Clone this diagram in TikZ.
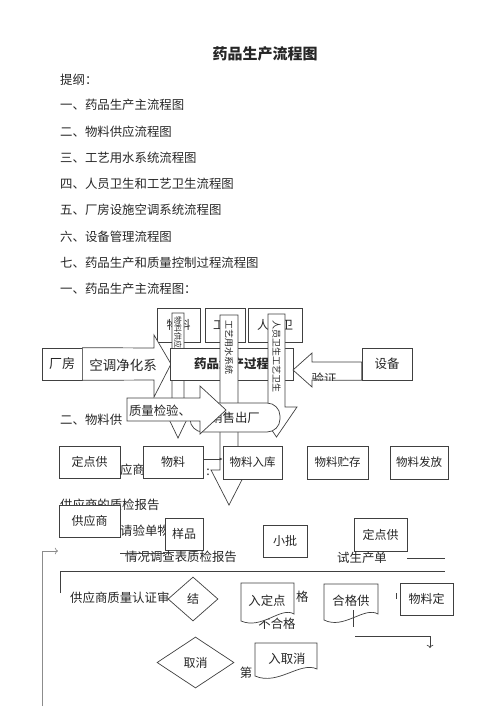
\documentclass[tikz,border=0pt]{standalone}
\usepackage{fontspec}
\setmainfont{Noto Sans CJK SC}
\usepackage{xcolor}
\usepackage{tikz}
\usetikzlibrary{shapes.geometric,arrows.meta}

\tikzset{
	ln/.style={draw=black!75, line width=0.7pt},
	box/.style={ln, fill=white, inner sep=0pt, font=\fontsize{12}{14}\selectfont},
	blk/.style={ln, fill=white},
	txt/.style={anchor=west, inner sep=0pt},
	vtxt/.style={rotate=-90, anchor=west, inner sep=0pt, font=\fontsize{8}{9}\selectfont},
	dia/.style={box, diamond},
	small/.style={font=\fontsize{11.5}{13}\selectfont},
}

\begin{document}
\begin{tikzpicture}[x=1pt,y=-1pt,font=\fontsize{12.4}{15}\selectfont,text=black!85]
	\useasboundingbox (0,0) rectangle (500,708);
	
	\node[font=\fontsize{15}{18}\selectfont\bfseries] (title) at (265,54) {药品生产流程图};
	\node[txt] (tigang) at (60,80) {提纲：};
	\foreach \t/\y [count=\i] in {一、药品生产主流程图/105,二、物料供应流程图/132,三、工艺用水系统流程图/158,四、人员卫生和工艺卫生流程图/184,五、厂房设施空调系统流程图/210,六、设备管理流程图/237,七、药品生产和质量控制过程流程图/263,一、药品生产主流程图：/289}
	\node[txt] (item\i) at (60,\y) {\t};
	\node[txt] (part2) at (60,420) {二、物料供};
	
	% main flow
	\node[box, minimum width=43, minimum height=34] (wlgy) at (178.5,325) {物料};
	\node[box, minimum width=40, minimum height=34] (gysy) at (225,325) {工艺};
	\node[box, minimum width=54, minimum height=34] (ryws) at (275,325) {人员卫};
	\draw[blk] (172,313) -- (184,313) -- (184,415) -- (189,415) -- (178,438) -- (167,415) -- (172,415) -- cycle;
	\node[vtxt] (va) at (178,316) {物料供应系统};
	
	\node[box, minimum width=40, minimum height=32, font=\fontsize{13}{15}\selectfont] (cf) at (62,364) {厂房};
	\draw[blk] (cf.north east) -- (154,348) -- (154,335) -- (171,364) -- (154,397) -- (154,380) -- (cf.south east) -- cycle;
	\node[font=\fontsize{13.5}{16}\selectfont] (kt) at (123,365) {空调净化系};
	
	\node[box, minimum width=123, minimum height=32, font=\fontsize{12.5}{15}\selectfont\bfseries] (scgc) at (231.5,364) {药品生产过程};
	
	\draw[blk] (220,315) -- (238,315) -- (238,470) -- (247,470) -- (229,505) -- (211,470) -- (220,470) -- cycle;
	\node[vtxt, font=\fontsize{9}{10}\selectfont] (vb) at (229,320) {工艺用水系统};
	\draw[blk] (268,314) -- (285,314) -- (285,407) -- (297,407) -- (276.5,437) -- (256,407) -- (268,407) -- cycle;
	\node[vtxt, font=\fontsize{9}{10}\selectfont] (vc) at (276.5,320) {人员卫生工艺卫生};
	
	\node[box, minimum width=50, minimum height=32, font=\fontsize{12.5}{15}\selectfont] (sb) at (387,364) {设备};
	\draw[blk] ([yshift=2pt]sb.west) -- (312,362) -- (312,353) -- (293,370) -- (312,387) -- (312,380) -- (sb.south west) -- cycle;
	\begin{scope}
		\clip (312,362) rectangle (362,380);
		\node (yz) at (324,379) {验证};
	\end{scope}
	
	\node[box, rounded corners=13, minimum width=90, minimum height=29, font=\fontsize{12.4}{15}\selectfont] (xscc) at (235,417.5) {销售出厂};
	\draw[blk] (127,398) -- (200,398) -- (200,386) -- (226,410) -- (200,434) -- (200,421) -- (127,421) -- cycle;
	\node (zljy) at (160,411) {质量检验、};
	
	% material supply
	\node[box, minimum width=61, minimum height=32] (ddg) at (89.5,462) {定点供};
	\node[txt] (ysh) at (120,470) {应商};
	\node[box, minimum width=60, minimum height=32] (wl) at (173,462) {物料};
	\node[box, small, minimum width=59, minimum height=33] (wlrk) at (252.5,462.5) {物料入库};
	\node[box, small, minimum width=61, minimum height=33] (wlzc) at (337.5,462.5) {物料贮存};
	\node[box, small, minimum width=58, minimum height=33] (wlff) at (419,462.5) {物料发放};
	\draw[ln, -{Latex[length=3pt,width=3pt]}] ([yshift=3pt]wl.east) -- ([yshift=3pt]wl.east -| wlrk.west);
	\node (colon) at (208,472) {:};
	
	\node[txt] (zjbg) at (60,505) {供应商的质检报告};
	\node[box, minimum width=61, minimum height=32] (gys) at (89.5,521) {供应商};
	\node[txt] (qyd) at (120,531) {请验单物};
	\node[box, minimum width=38, minimum height=32] (yangpin) at (184,534) {样品};
	\node[txt] (dcb) at (125,557) {情况调查表质检报告};
	\coordinate (s1) at (120,553);
	\draw[ln] (s1) -- (s1 -| yangpin.west);
	\node[box, minimum width=44, minimum height=32] (xp) at (285,541) {小批};
	\node[box, minimum width=53, minimum height=33] (ddg2) at (380.5,534.5) {定点供};
	\node[txt] (scd) at (337,558) {试生产单};
	\coordinate (s2) at (445,558);
	\draw[ln] (s2 -| ddg2.east) -- (s2);
	
	\coordinate (l0) at (60,593);
	\coordinate (l1) at (60,571);
	\coordinate (l2) at (445,571);
	\draw[ln] (l0) -- (l1) -- (l2);
	\coordinate (a0) at (42,706);
	\coordinate (a1) at (42,551);
	\draw[ln, black!45, ->] (a0) -- (a1) -- ++(16,0);
	
	\node[txt] (rzs) at (70,598) {供应商质量认证审};
	\node[dia, minimum width=50, minimum height=44] (jie) at (193,599) {结};
	\node (bhg) at (277,624) {不合格};
	\draw[blk] (241,583) -- (294,583) -- (294,614) .. controls (281,606) and (262,630) .. (241,621) -- cycle;
	\node (rdd) at (267,601) {入定点};
	\node[txt] (ge) at (296,597) {格};
	\draw[blk] (324,584) -- (378,584) -- (378,614) .. controls (364,606) and (344,630) .. (324,620) -- cycle;
	\node (hgg) at (351,601) {合格供};
	\draw[ln] (hgg.south) ++(2,0) -- ++(0,17);
	\node[box, minimum width=53, minimum height=32] (wld) at (426.5,599) {物料定};
	\draw[ln] ([xshift=-3pt]wld.west) -- ++(0,-6);
	
	\coordinate (b0) at (355,636);
	\coordinate (b1) at (430,636);
	\draw[ln, ->] (b0) -- (b1) -- ++(0,12);
	\node[dia, minimum width=77, minimum height=51] (qx) at (195.5,662.5) {取消};
	\node (di) at (246,673) {第};
	\draw[blk] (255,643) -- (317,643) -- (317,669) .. controls (300,661) and (278,686) .. (255,676) -- cycle;
	\node (rqx) at (287,659) {入取消};
	
\end{tikzpicture}
\end{document}
